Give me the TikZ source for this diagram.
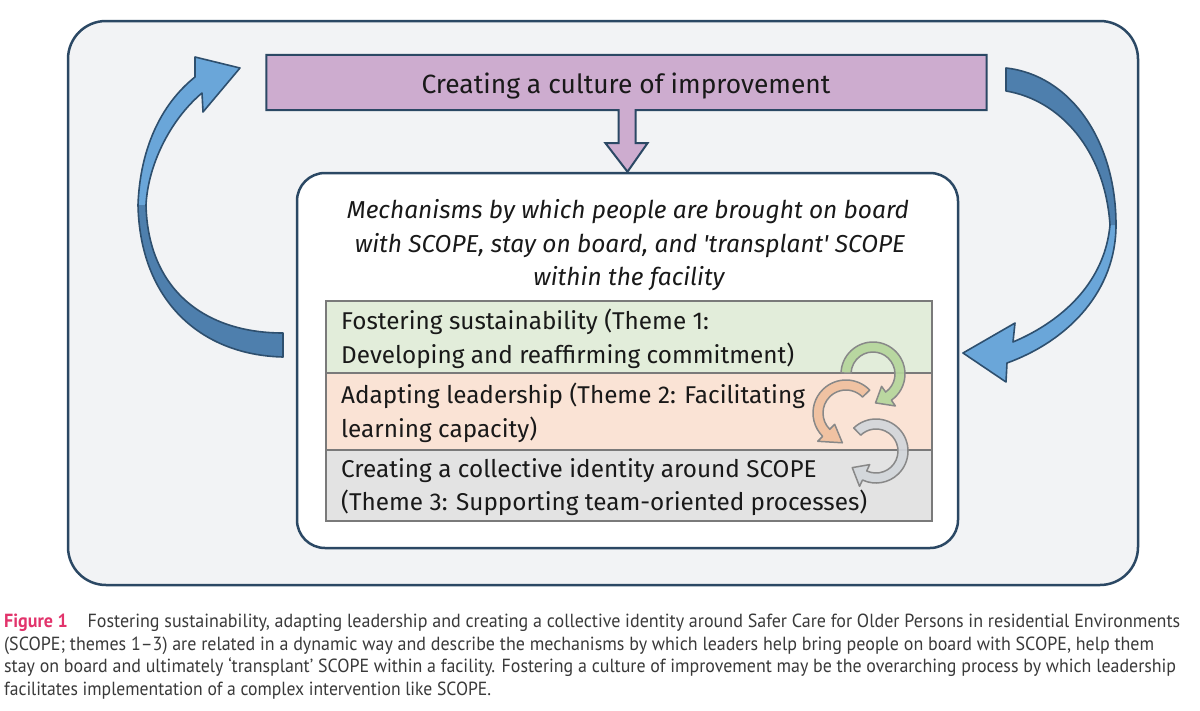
\documentclass[tikz,border=0pt]{standalone}
\usepackage{fontspec}
\usepackage{graphicx}
\setmainfont{Fira Sans}
\newfontfamily\capfont[Ligatures=TeX]{PT Sans}
\usetikzlibrary{calc}
\definecolor{navy}{HTML}{2B4864}
\definecolor{outerbg}{HTML}{F2F3F5}
\definecolor{purp}{HTML}{CDACCF}
\definecolor{rowgreen}{HTML}{E2EDDA}
\definecolor{roworange}{HTML}{FAE3D5}
\definecolor{rowgray}{HTML}{E3E3E3}
\definecolor{rowline}{HTML}{7A7A7A}
\definecolor{bluelight}{HTML}{6AA6D9}
\definecolor{bluedark}{HTML}{4E7FAD}
\definecolor{blueline}{HTML}{2E4F6E}
\definecolor{cgreen}{HTML}{B5D69C}
\definecolor{corange}{HTML}{F0C09E}
\definecolor{cgray}{HTML}{D2D6DB}
\definecolor{cline}{HTML}{888888}
\definecolor{figred}{HTML}{E2336B}
\definecolor{captext}{HTML}{3A3A3A}
% center x, center y, mid radius, band width, start angle, end angle, tip angle, fill
\newcommand{\circarrow}[8]{%
  \begin{scope}[shift={(#1,#2)}]
    \filldraw[fill=#8, draw=cline, line width=1.5pt, line join=round, fill opacity=0.92]
      (#5:{#3+#4/2}) arc[start angle=#5, end angle=#6, radius={#3+#4/2}]
      -- (#6:{#3+#4/2+7}) -- (#7:{#3+2}) -- (#6:{#3-#4/2-7}) -- (#6:{#3-#4/2})
      arc[start angle=#6, end angle=#5, radius={#3-#4/2}] -- cycle;
  \end{scope}}
\tikzset{
  framebox/.style={draw=navy, fill=outerbg, line width=2.5pt, rounded corners=38pt, inner sep=0},
  innerbox/.style={draw=navy, fill=white, line width=2.5pt, rounded corners=28pt, inner sep=0},
  purpbox/.style={fill=purp, inner sep=0},
  callout/.style={draw=navy, fill=purp, line width=2pt, line join=miter},
  rowbox/.style={draw=rowline, line width=1.2pt, minimum width=606, inner sep=0},
  rowtext/.style={anchor=base west, inner sep=0, font=\fontsize{24.3}{28}\selectfont, text=black!90},
  ittext/.style={anchor=base, inner sep=0, font=\itshape\fontsize{24.5}{28}\selectfont, text=black!90},
  titletext/.style={anchor=base, inner sep=0, font=\fontsize{26.4}{30}\selectfont, text=black!90},
  captext/.style={anchor=base west, inner sep=0, font=\capfont\fontsize{19}{23}\selectfont, text=captext},
  bigline/.style={draw=blueline, line width=1.6pt, line join=round}
}
\begin{document}
\begin{tikzpicture}[x=1pt, y=-1pt]
\useasboundingbox[fill=white] (0,0) rectangle (1200,710);
% frame
\node[framebox, minimum width=1070, minimum height=564] (frame) at (603,303) {};
% left big arrow
\fill[bluelight] (283,357) .. controls (200,355) and (140,300) .. (138,205)
  .. controls (140,150) and (160,105) .. (195,77) -- (195,57) -- (240,68) -- (203,112) -- (202,93)
  .. controls (170,120) and (148,165) .. (146,205) .. controls (148,290) and (205,333) .. (283,333) -- cycle;
\fill[bluedark] (283,357) .. controls (200,355) and (140,300) .. (138,205) -- (146,205)
  .. controls (148,290) and (205,333) .. (283,333) -- cycle;
\draw[bigline] (283,357) .. controls (200,355) and (140,300) .. (138,205)
  .. controls (140,150) and (160,105) .. (195,77) -- (195,57) -- (240,68) -- (203,112) -- (202,93)
  .. controls (170,120) and (148,165) .. (146,205) .. controls (148,290) and (205,333) .. (283,333) -- cycle;
% right big arrow
\fill[bluelight] (1006,68) .. controls (1070,75) and (1116,140) .. (1116,225)
  .. controls (1116,290) and (1070,340) .. (1007,363) -- (1006,382) -- (963,353) -- (1015,323) -- (1013,342)
  .. controls (1065,320) and (1105,280) .. (1110,225) .. controls (1105,150) and (1060,100) .. (1006,91) -- cycle;
\fill[bluedark] (1006,68) .. controls (1070,75) and (1116,140) .. (1116,225) -- (1110,225)
  .. controls (1105,150) and (1060,100) .. (1006,91) -- cycle;
\draw[bigline] (1006,68) .. controls (1070,75) and (1116,140) .. (1116,225)
  .. controls (1116,290) and (1070,340) .. (1007,363) -- (1006,382) -- (963,353) -- (1015,323) -- (1013,342)
  .. controls (1065,320) and (1105,280) .. (1110,225) .. controls (1105,150) and (1060,100) .. (1006,91) -- cycle;
% inner box
\node[innerbox, minimum width=661, minimum height=375] (inner) at (627.5,360.5) {};
% purple box with arrow
\node[purpbox, minimum width=720, minimum height=55] (purple) at (626.5,82.5) {};
\draw[callout] (purple.north west) -- (purple.north east) -- (purple.south east)
  -- ($(purple.south)+(9,0)$) -- ($(purple.south)+(9,33)$) -- ($(purple.south)+(21,33)$)
  -- (inner.north) -- ($(purple.south)+(-21,33)$) -- ($(purple.south)+(-8,33)$)
  -- ($(purple.south)+(-8,0)$) -- (purple.south west) -- cycle;
\node[titletext] (title) at (626,93) {Creating a culture of improvement};
% italic heading
\node[ittext] (it1) at (628,218) {Mechanisms by which people are brought on board};
\node[ittext] (it2) at (630,252) {with SCOPE, stay on board, and \textquotesingle transplant\textquotesingle\ SCOPE};
\node[ittext] (it3) at (629,285) {within the facility};
% table rows
\node[rowbox, fill=rowgreen, minimum height=72] (row1) at (629,337) {};
\node[rowbox, fill=roworange, minimum height=77] (row2) at (629,411.5) {};
\node[rowbox, fill=rowgray, minimum height=71] (row3) at (629,485.5) {};
\node[rowtext] (t1a) at (341,329) {Fostering sustainability (Theme 1:};
\node[rowtext] (t1b) at (341,363) {Developing and reaffirming commitment)};
\node[rowtext] (t2a) at (341,403) {Adapting leadership (Theme 2: Facilitating};
\node[rowtext] (t2b) at (341,437) {learning capacity)};
\node[rowtext] (t3a) at (341,477) {Creating a collective identity around SCOPE};
\node[rowtext] (t3b) at (341,510) {(Theme 3: Supporting team-oriented processes)};
% circular arrows
\circarrow{873}{374}{27}{10}{182}{415}{445}{cgreen}
\circarrow{846}{413}{28}{10}{316}{135}{97}{corange}
\circarrow{876}{451}{27}{10}{226}{475}{505}{cgray}
% caption
\node[captext] (c1) at (4,627) {\resizebox{1176pt}{\height}{{\bfseries\color{figred}Figure 1}\hspace{1.1em}Fostering sustainability, adapting leadership and creating a collective identity around Safer Care for Older Persons in residential Environments}};
\node[captext] (c2) at (4,650) {\resizebox{1150pt}{\height}{(SCOPE; themes 1--3) are related in a dynamic way and describe the mechanisms by which leaders help bring people on board with SCOPE, help them}};
\node[captext] (c3) at (4,672) {\resizebox{1172pt}{\height}{stay on board and ultimately `transplant' SCOPE within a facility. Fostering a culture of improvement may be the overarching process by which leadership}};
\node[captext] (c4) at (4,695) {\resizebox{487pt}{\height}{facilitates implementation of a complex intervention like SCOPE.}};
\end{tikzpicture}
\end{document}
